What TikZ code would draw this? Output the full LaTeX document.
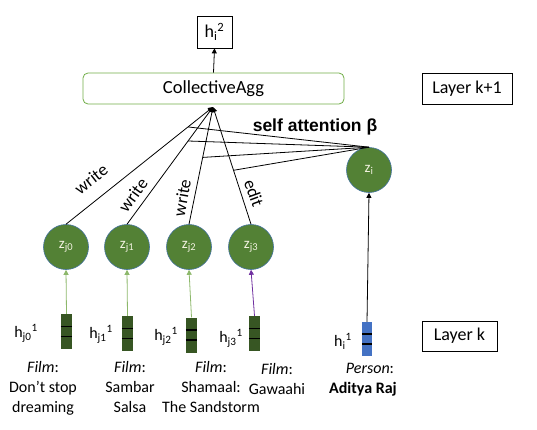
\documentclass[tikz,border=0pt]{standalone}
\usepackage{fontspec}
\setmainfont{Carlito}
\newfontfamily\arialfont{Liberation Sans}
\usetikzlibrary{arrows.meta,calc}
\definecolor{circfill}{HTML}{538135}
\definecolor{circedge}{HTML}{41719C}
\definecolor{barfill}{HTML}{375623}
\definecolor{barblue}{HTML}{4472C4}
\definecolor{aggedge}{HTML}{70AD47}
\definecolor{greenarrow}{HTML}{8DB86B}
\definecolor{purplearrow}{HTML}{7030A0}
\definecolor{circtext}{HTML}{F2F2E0}
\tikzset{
  zcirc/.style={circle, fill=circfill, draw=circedge, line width=0.6pt, minimum size=45pt, inner sep=0pt, text=circtext, font=\fontsize{15}{17}\selectfont},
  barbox/.style={rectangle, fill=barfill, minimum width=11pt, minimum height=35pt, inner sep=0pt},
  bluebar/.style={rectangle, fill=barblue, minimum width=10pt, minimum height=34pt, inner sep=0pt},
  labbox/.style={rectangle, draw=black, line width=0.7pt, inner sep=0pt, font=\fontsize{18}{20}\selectfont},
  hlab/.style={font=\fontsize{16}{18}\selectfont, inner sep=0pt},
  captext/.style={font=\fontsize{16}{20}\selectfont, align=center, inner sep=0pt},
  edgelab/.style={font=\fontsize{17.5}{19}\selectfont, inner sep=0pt},
  conn/.style={line width=0.8pt, black},
  tipped/.style={-{Triangle[length=5pt,width=5pt]}},
}
\begin{document}
\begin{tikzpicture}[x=1pt,y=-1pt]
\useasboundingbox (0,0) rectangle (537,429);

% top boxes
\node[labbox, minimum width=35pt, minimum height=32pt] (h2) at (214.5,32) {h\textsubscript{i}\textsuperscript{2}};
\node[rectangle, rounded corners=5pt, draw=aggedge, line width=0.8pt, minimum width=261pt, minimum height=31pt, font=\fontsize{18.5}{20}\selectfont] (agg) at (213.5,88.5) {CollectiveAgg};
\node[labbox, minimum width=90pt, minimum height=31pt] (lk1) at (467,88.5) {Layer k+1};
\node[labbox, minimum width=75pt, minimum height=30pt] (lk) at (459.5,336) {Layer k};
\draw[conn, tipped] (agg.north) -- (h2.south);

\node[font=\arialfont\bfseries\fontsize{17.5}{19}\selectfont, inner sep=0pt] (sa) at (315,127) {self attention β};

% circles
\node[zcirc] (j0) at (66,247) {z\textsubscript{j0}};
\node[zcirc] (j1) at (127,247) {z\textsubscript{j1}};
\node[zcirc] (j2) at (189,247) {z\textsubscript{j2}};
\node[zcirc] (j3) at (251,247) {z\textsubscript{j3}};
\node[zcirc] (zi) at (369,170) {z\textsubscript{i}};

\coordinate (C) at (213,107);
\draw[conn, tipped] (j0.north) -- (C);
\draw[conn, tipped] (j1.north) -- (C);
\draw[conn, tipped] (j2.north) -- (C);
\draw[conn, tipped] (j3.north) -- (C);

\draw[conn] (zi.north) -- ($(j0.north)!0.83!(C)$);
\draw[conn] (zi.north) -- ($(j1.north)!0.71!(C)$);
\draw[conn] (zi.north) -- ($(j2.north)!0.57!(C)$);
\draw[conn] (zi.north) -- ($(j3.north)!0.46!(C)$);

\node[edgelab, rotate=38] (w0) at (91,179) {write};
\node[edgelab, rotate=54] (w1) at (133,195) {write};
\node[edgelab, rotate=80] (w2) at (182,198) {write};
\node[edgelab, rotate=-70] (e3) at (254,193) {edit};

% bars
\node[barbox] (b0) at (66.5,331.5) {};
\node[barbox] (b1) at (127.5,333.5) {};
\node[barbox] (b2) at (191.5,335) {};
\node[barbox] (b3) at (254.5,333.5) {};
\node[bluebar] (bi) at (367,339) {};
\foreach \b in {b0,b1,b2,b3,bi}{
  \draw[line width=1.3pt, black] ($(\b.west)+(0,-5)$) -- ($(\b.east)+(0,-5)$);
  \draw[line width=1.3pt, black] ($(\b.west)+(0,5)$) -- ($(\b.east)+(0,5)$);
}

\draw[line width=0.8pt, greenarrow, tipped] (b0.north) -- (j0.south);
\draw[line width=0.8pt, greenarrow, tipped] (b1.north) -- (j1.south);
\draw[line width=0.8pt, greenarrow, tipped] (b2.north) -- (j2.south);
\draw[line width=0.8pt, purplearrow, tipped] (b3.north) -- (j3.south);
\draw[conn, tipped] (bi.north) -- (zi.south);

% h labels
\node[hlab] (hj0) at (26,333) {h\textsubscript{j0}\textsuperscript{1}};
\node[hlab] (hj1) at (101,334) {h\textsubscript{j1}\textsuperscript{1}};
\node[hlab] (hj2) at (166,336) {h\textsubscript{j2}\textsuperscript{1}};
\node[hlab] (hj3) at (231,338) {h\textsubscript{j3}\textsuperscript{1}};
\node[hlab] (hi) at (343,341) {h\textsubscript{i}\textsuperscript{1}};

% captions
\node[captext, anchor=north] (c0) at (43,361) {\textit{Film}:\\Don’t stop\\dreaming};
\node[captext, anchor=north] (c1) at (130,361) {\textit{Film}:\\Sambar\\Salsa};
\node[captext, anchor=north] (c2) at (211,361) {\textit{Film}:\\Shamaal:\\The Sandstorm};
\node[captext, anchor=north] (c3) at (277,363) {\textit{Film}:\\Gawaahi};
\node[captext, anchor=north] (c4) at (363,363) {\hspace*{14pt}\textit{Person}:\\\textbf{Aditya Raj}};
\end{tikzpicture}
\end{document}
